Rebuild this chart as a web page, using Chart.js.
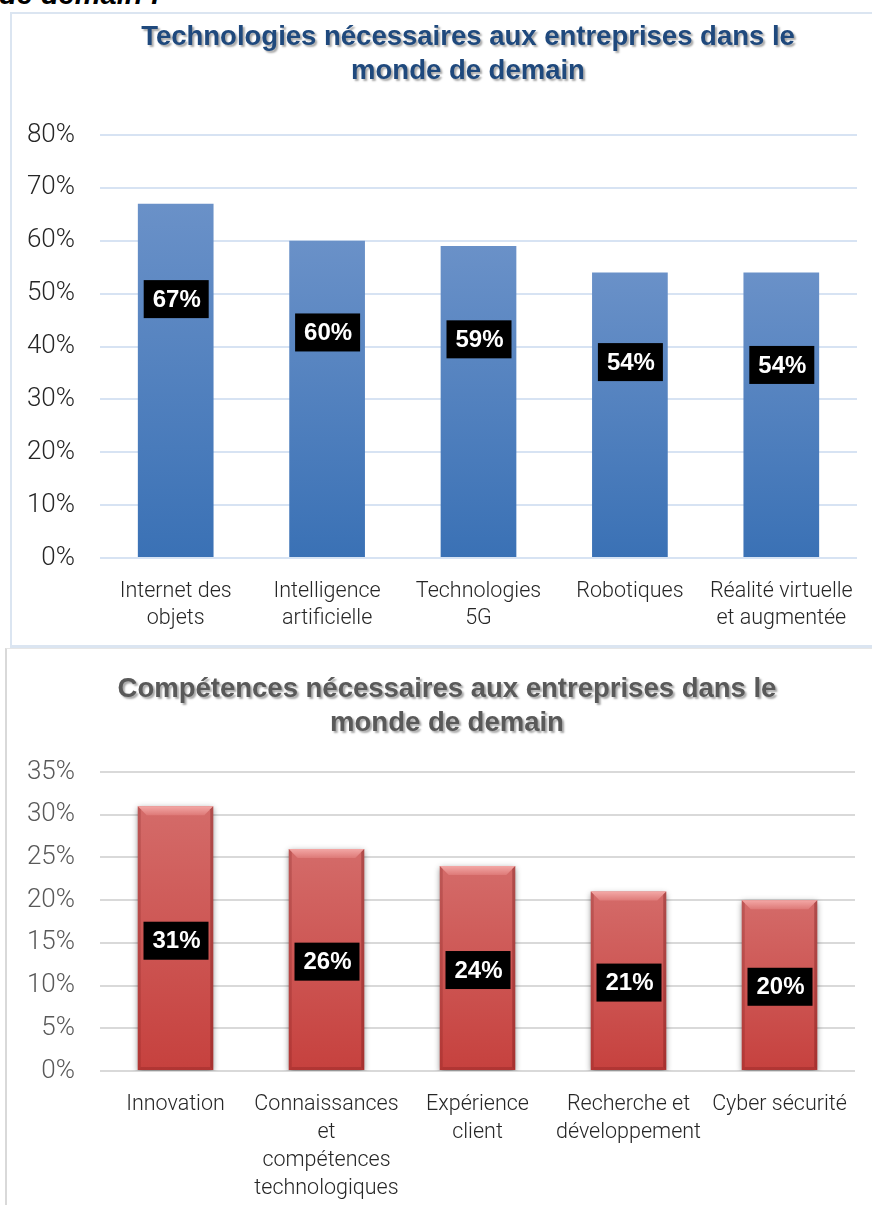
<!DOCTYPE html>
<html lang="fr">

<head>
    <meta charset="UTF-8">
    <meta name="viewport" content="width=device-width, initial-scale=1.0">
    <title>Technologies et compétences</title>
    <style>
        body {
            margin: 0;
            background: #fff;
            width: 872px;
            height: 1205px;
            overflow: hidden;
            position: relative;
            font-family: "Liberation Sans", Arial, sans-serif;
        }

        .intro {
            position: absolute;
            left: -1px;
            top: -22px;
            font-size: 29px;
            line-height: 32px;
            font-weight: bold;
            font-style: italic;
            color: #000;
        }

        .bloc {
            position: absolute;
            box-sizing: border-box;
        }

        #bloc1 {
            left: 10px;
            top: 12px;
            width: 862px;
            height: 636px;
            border-left: 2px solid #dbe5f1;
            border-top: 2px solid #dbe5f1;
            border-bottom: 3px solid #dbe5f1;
        }

        #bloc2 {
            left: 5px;
            top: 648px;
            width: 867px;
            height: 557px;
            border-left: 2px solid #d9d9d9;
            border-top: 1px solid #e6e6e6;
        }

        canvas {
            display: block;
        }
    </style>
</head>

<body>
    <div class="intro">de demain :</div>
    <div class="bloc" id="bloc1">
        <canvas id="chartTech" width="860" height="631"></canvas>
    </div>
    <div class="bloc" id="bloc2">
        <canvas id="chartComp" width="865" height="555"></canvas>
    </div>
</body>
<script src="https://cdn.jsdelivr.net/npm/chart.js"></script>
<script>
    // donnees du premier graphique
    const techLabels = [
        ['Internet des', 'objets'],
        ['Intelligence', 'artificielle'],
        ['Technologies', '5G'],
        ['Robotiques'],
        ['Réalité virtuelle', 'et augmentée']
    ];
    const techValues = [67, 60, 59, 54, 54];
    const techTitle = ['Technologies nécessaires aux entreprises dans le', 'monde de demain'];

    // donnees du second graphique
    const compLabels = [
        ['Innovation'],
        ['Connaissances', 'et', 'compétences', 'technologiques'],
        ['Expérience', 'client'],
        ['Recherche et', 'développement'],
        ['Cyber sécurité']
    ];
    const compValues = [31, 26, 24, 21, 20];
    const compTitle = ['Compétences nécessaires aux entreprises dans le', 'monde de demain'];

    const pct = (v) => v + '%';

    // titre avec ombre portee (dessine a la main)
    const titreOmbre = {
        id: 'titreOmbre',
        afterDraw(chart, args, opts) {
            const ctx = chart.ctx;
            ctx.save();
            ctx.font = 'bold 27.5px "Liberation Sans", Arial, sans-serif';
            ctx.textAlign = 'center';
            ctx.textBaseline = 'middle';
            ctx.shadowColor = 'rgba(0,0,0,0.35)';
            ctx.shadowOffsetX = 2;
            ctx.shadowOffsetY = 2;
            ctx.shadowBlur = 2;
            ctx.fillStyle = opts.color;
            opts.lines.forEach((line, i) => {
                ctx.fillText(line, opts.x, opts.y + i * 34);
            });
            ctx.restore();
        }
    };

    // etiquettes noires dans les barres
    const etiquettes = {
        id: 'etiquettes',
        afterDatasetsDraw(chart, args, opts) {
            const ctx = chart.ctx;
            const meta = chart.getDatasetMeta(0);
            ctx.save();
            ctx.font = 'bold 24px "Liberation Sans", Arial, sans-serif';
            ctx.textAlign = 'center';
            ctx.textBaseline = 'middle';
            meta.data.forEach((bar, i) => {
                const cy = bar.base - (bar.base - bar.y) * opts.pos[i];
                ctx.fillStyle = '#000';
                ctx.fillRect(bar.x - 32, cy - 19, 65, 38);
                ctx.fillStyle = '#fff';
                ctx.fillText(pct(chart.data.datasets[0].data[i]), bar.x + 1, cy + 1);
            });
            ctx.restore();
        }
    };

    // effet biseau sur les barres rouges
    const biseau = {
        id: 'biseau',
        beforeDatasetsDraw(chart, args, opts) {
            if (!opts.on) return;
            const ctx = chart.ctx;
            ctx.save();
            ctx.shadowColor = 'rgba(0,0,0,0.45)';
            ctx.shadowBlur = 6;
            ctx.shadowOffsetY = 2;
        },
        afterDatasetsDraw(chart, args, opts) {
            if (!opts.on) return;
            const ctx = chart.ctx;
            ctx.restore();
            ctx.save();
            chart.getDatasetMeta(0).data.forEach((bar) => {
                const l = bar.x - bar.width / 2;
                const r = bar.x + bar.width / 2;
                const t = bar.y;
                const b = bar.base;
                const k = 9;
                const s = 3;
                // haut clair
                const g = ctx.createLinearGradient(0, t, 0, t + k);
                g.addColorStop(0, '#f3a8a6');
                g.addColorStop(1, '#de7a78');
                ctx.fillStyle = g;
                ctx.beginPath();
                ctx.moveTo(l, t);
                ctx.lineTo(r, t);
                ctx.lineTo(r - k, t + k);
                ctx.lineTo(l + k, t + k);
                ctx.closePath();
                ctx.fill();
                // cotes sombres
                ctx.fillStyle = 'rgba(110,20,20,0.22)';
                ctx.beginPath();
                ctx.moveTo(l, t);
                ctx.lineTo(l + s, t + s);
                ctx.lineTo(l + s, b - s);
                ctx.lineTo(l, b);
                ctx.closePath();
                ctx.fill();
                ctx.fillStyle = 'rgba(110,20,20,0.35)';
                ctx.beginPath();
                ctx.moveTo(r, t);
                ctx.lineTo(r - s, t + s);
                ctx.lineTo(r - s, b - s);
                ctx.lineTo(r, b);
                ctx.closePath();
                ctx.fill();
                // bas
                ctx.fillStyle = 'rgba(110,20,20,0.25)';
                ctx.beginPath();
                ctx.moveTo(l, b);
                ctx.lineTo(l + s, b - s);
                ctx.lineTo(r - s, b - s);
                ctx.lineTo(r, b);
                ctx.closePath();
                ctx.fill();
            });
            ctx.restore();
        }
    };

    const degrade = (top, bottom) => (context) => {
        const chart = context.chart;
        if (!chart.chartArea) return bottom;
        const y = chart.scales.y;
        const y0 = y.getPixelForValue(context.raw);
        const y1 = y.getPixelForValue(0);
        const g = chart.ctx.createLinearGradient(0, y0, 0, y1);
        g.addColorStop(0, top);
        g.addColorStop(1, bottom);
        return g;
    };

    const makeChart = (id, cfg) => {
        const ctx = document.getElementById(id).getContext('2d');
        return new Chart(ctx, {
            type: 'bar',
            data: {
                labels: cfg.labels,
                datasets: [{
                    data: cfg.values,
                    backgroundColor: cfg.fill,
                    borderWidth: 0,
                    barPercentage: 1,
                    categoryPercentage: 0.5
                }]
            },
            options: {
                responsive: false,
                animation: false,
                layout: {
                    padding: { top: cfg.area.top, right: cfg.area.right, left: 0, bottom: 0 }
                },
                plugins: {
                    legend: { display: false },
                    tooltip: { enabled: false },
                    titreOmbre: cfg.title,
                    etiquettes: { pos: cfg.labelPos },
                    biseau: { on: cfg.bevel }
                },
                scales: {
                    x: {
                        grid: { display: false },
                        border: { display: false },
                        ticks: {
                            color: cfg.catColor,
                            font: { family: 'Roboto', weight: 300, size: 21.5, lineHeight: cfg.catLine },
                            padding: 12,
                            maxRotation: 0,
                            autoSkip: false
                        },
                        afterFit: (s) => { s.height = cfg.area.xh; }
                    },
                    y: {
                        min: 0,
                        max: cfg.max,
                        ticks: {
                            stepSize: cfg.step,
                            callback: pct,
                            color: cfg.tickColor,
                            font: { family: 'Roboto', weight: 300, size: 26 },
                            padding: 25
                        },
                        grid: {
                            color: cfg.gridColor,
                            lineWidth: 2,
                            drawTicks: false
                        },
                        border: { display: false },
                        afterFit: (s) => { s.width = cfg.area.left; }
                    }
                }
            },
            plugins: [titreOmbre, biseau, etiquettes]
        });
    };

    makeChart('chartTech', {
        labels: techLabels,
        values: techValues,
        max: 80,
        step: 10,
        fill: degrade('#6a91c8', '#3a71b5'),
        gridColor: '#d7e3f3',
        tickColor: '#262626',
        catColor: '#262626',
        catLine: 1.256,
        labelPos: [0.73, 0.71, 0.70, 0.685, 0.675],
        bevel: false,
        area: { top: 121, right: 15, left: 88, xh: 87 },
        title: { lines: techTitle, color: '#1f497d', x: 456, y: 23 }
    });

    makeChart('chartComp', {
        labels: compLabels,
        values: compValues,
        max: 35,
        step: 5,
        fill: degrade('#d46b69', '#c6413e'),
        gridColor: '#d9d9d9',
        tickColor: '#595959',
        catColor: '#262626',
        catLine: 1.3,
        labelPos: [0.49, 0.49, 0.49, 0.49, 0.49],
        bevel: true,
        area: { top: 123, right: 17, left: 93, xh: 133 },
        title: { lines: compTitle, color: '#595959', x: 440, y: 40 }
    });
</script>

</html>
